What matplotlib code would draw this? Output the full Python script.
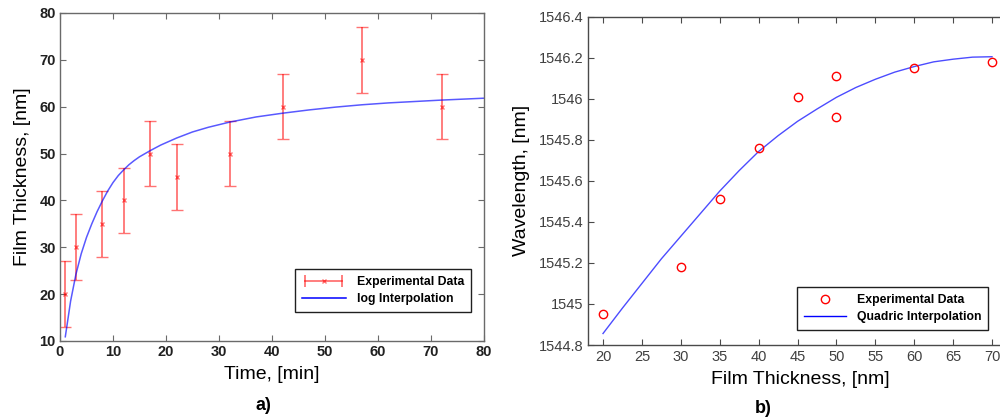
import numpy as np
import matplotlib
matplotlib.use('Agg')
import matplotlib.pyplot as plt
from matplotlib.lines import Line2D
from matplotlib.legend_handler import HandlerLine2D, HandlerTuple

plt.rcParams['font.family'] = ['Liberation Sans', 'DejaVu Sans']

# --- panel a) film thickness vs deposition time
time_min = [1, 3, 8, 12, 17, 22, 32, 42, 57, 72]
thick_nm = [20, 30, 35, 40, 50, 45, 50, 60, 70, 60]
thick_err = [7, 7, 7, 7, 7, 7, 7, 7, 7, 7]

# log interpolation curve
fit_t = [1, 2, 3, 4, 5, 6, 7, 8, 9, 10, 11, 12, 13, 14, 15, 17, 19, 22, 25, 28,
         32, 37, 42, 47, 52, 57, 62, 67, 72, 76, 80]
fit_thick = [10.9, 18.5, 24.2, 28.6, 32.1, 35.0, 37.6, 39.9, 42.0, 43.8, 45.3, 46.5,
             47.6, 48.5, 49.3, 50.6, 51.8, 53.3, 54.6, 55.6, 56.7, 57.8, 58.6, 59.3,
             59.9, 60.4, 60.8, 61.1, 61.4, 61.6, 61.8]

# --- panel b) wavelength vs film thickness
film = [20, 30, 35, 40, 45, 50, 50, 60, 70]
wavelength = [1544.95, 1545.18, 1545.51, 1545.76, 1546.01, 1546.11, 1545.91, 1546.15, 1546.18]

# quadric interpolation curve
quad_x = [20, 22.5, 25, 27.5, 30, 32.5, 35, 37.5, 40, 42.5, 45, 47.5, 50, 52.5, 55,
          57.5, 60, 62.5, 65, 67.5, 70]
quad_y = [1544.856, 1544.98, 1545.10, 1545.22, 1545.33, 1545.44, 1545.55, 1545.65,
          1545.743, 1545.82, 1545.89, 1545.95, 1546.007, 1546.055, 1546.095, 1546.13,
          1546.157, 1546.18, 1546.193, 1546.203, 1546.205]

wl_ticks = [1544.8, 1545, 1545.2, 1545.4, 1545.6, 1545.8, 1546, 1546.2, 1546.4]
wl_labels = ['1544.8', '1545', '1545.2', '1545.4', '1545.6', '1545.8', '1546', '1546.2', '1546.4']

fig = plt.figure(figsize=(10, 4.19), dpi=100)


def style_axes(ax, col):
    for s in ax.spines.values():
        s.set_color(col)
        s.set_linewidth(1.0)
    ax.tick_params(direction='in', length=4, width=0.8, color=col,
                   top=True, right=True)


# ---- a)
ax1 = fig.add_axes([0.060, 0.1862, 0.424, 0.783])
ax1.errorbar(time_min, thick_nm, yerr=thick_err, fmt='x', color='red', alpha=0.55,
             ms=3, mew=1, elinewidth=1.3, capsize=4, capthick=1.3)
ax1.plot(fit_t, fit_thick, color='blue', alpha=0.65, lw=1.1)
ax1.set_xlim(0, 80)
ax1.set_ylim(10, 80)
ax1.set_xticks(range(0, 81, 10))
ax1.set_yticks(range(10, 81, 10))
style_axes(ax1, '#6a6a6a')
for lab in ax1.get_xticklabels() + ax1.get_yticklabels():
    lab.set_fontsize(10.5)
    lab.set_fontweight('bold')
    lab.set_color('#202020')
ax1.tick_params(pad=3)
ax1.set_xlabel('Time, [min]', fontsize=14, labelpad=5)
ax1.set_ylabel('Film Thickness, [nm]', fontsize=14, labelpad=6)

cap_h = Line2D([], [], color='red', alpha=0.55, lw=1.3, marker='|', ms=8, mew=1.3)
x_h = Line2D([], [], color='red', alpha=0.55, ls='none', marker='x', ms=3, mew=1)
log_h = Line2D([], [], color='blue', lw=1.1)
leg1 = ax1.legend([(cap_h, x_h), log_h], ['Experimental Data', 'log Interpolation'],
                  handler_map={cap_h: HandlerLine2D(numpoints=2), x_h: HandlerLine2D(numpoints=1),
                               tuple: HandlerTuple(ndivide=1)},
                  loc='lower right', bbox_to_anchor=(0.969, 0.088), borderaxespad=0,
                  fancybox=False, framealpha=1, edgecolor='#202020', handlelength=3.6,
                  prop={'weight': 'bold', 'size': 8.8}, borderpad=0.55, labelspacing=0.45,
                  handletextpad=0.9)
leg1.get_frame().set_linewidth(1.0)

# ---- b)
ax2 = fig.add_axes([0.588, 0.1766, 0.425, 0.7835])
ax2.plot(quad_x, quad_y, color='blue', alpha=0.7, lw=1.0)
ax2.plot(film, wavelength, 'o', mfc='none', mec='red', ms=6, mew=1)
ax2.set_xlim(18.07, 72.7)
ax2.set_ylim(1544.8, 1546.4)
ax2.set_xticks(range(20, 71, 5))
ax2.set_yticks(wl_ticks)
ax2.set_yticklabels(wl_labels)
style_axes(ax2, '#4a4a4a')
for lab in ax2.get_xticklabels() + ax2.get_yticklabels():
    lab.set_fontsize(10.5)
    lab.set_color('#404040')
ax2.set_xlabel('Film Thickness, [nm]', fontsize=14, labelpad=5)
ax2.set_ylabel('Wavelength, [nm]', fontsize=14, labelpad=6)

circ_h = Line2D([], [], ls='none', marker='o', mfc='none', mec='red', ms=6, mew=1)
quad_h = Line2D([], [], color='blue', lw=1.0)
leg2 = ax2.legend([circ_h, quad_h], ['Experimental Data', 'Quadric Interpolation'],
                  loc='lower right', bbox_to_anchor=(0.941, 0.0457), borderaxespad=0,
                  fancybox=False, framealpha=1, edgecolor='#202020', handlelength=3.4,
                  numpoints=1, prop={'weight': 'bold', 'size': 8.8}, borderpad=0.55,
                  labelspacing=0.45, handletextpad=0.9)
leg2.get_frame().set_linewidth(1.0)

fig.text(0.263, 0.033, 'a)', ha='center', va='center', fontsize=13, fontweight='bold')
fig.text(0.763, 0.026, 'b)', ha='center', va='center', fontsize=13, fontweight='bold')

fig.savefig('out.png', dpi=100)
